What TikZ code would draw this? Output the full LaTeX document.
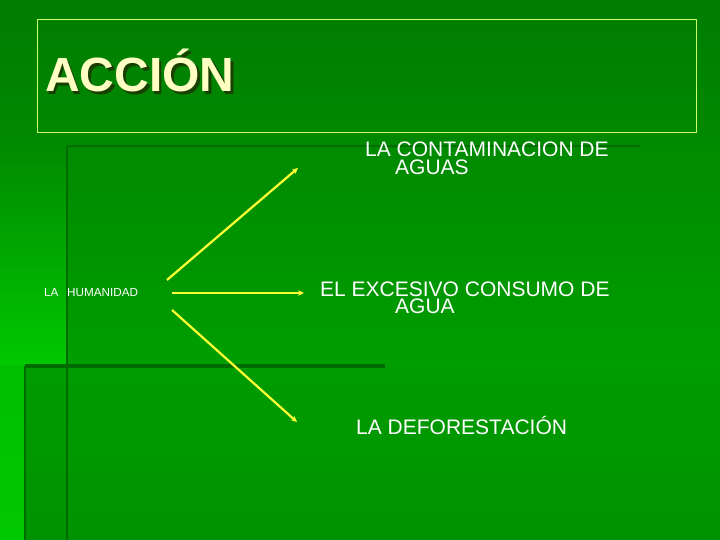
\documentclass[tikz,border=0pt]{standalone}
\usepackage{fontspec}
\setmainfont{Liberation Sans}
\usetikzlibrary{arrows.meta}
\definecolor{gtop}{HTML}{007C00}
\definecolor{gmid}{HTML}{008A00}
\definecolor{gpanel}{HTML}{009E00}
\definecolor{glow}{HTML}{009200}
\definecolor{gbright}{HTML}{00C800}
\definecolor{gline}{HTML}{006C00}
\definecolor{boxline}{HTML}{CCFF66}
\definecolor{arrowcol}{HTML}{FFFF33}
\definecolor{titlecol}{HTML}{FFFFC4}
\definecolor{shadowcol}{HTML}{1A4000}
\tikzset{
  deco/.style={gline, line width=2.6pt},
  arr/.style={arrowcol, line width=2.2pt, -{Stealth[length=6pt,width=5.5pt]}},
  item/.style={text=white, font=\fontsize{21}{17.5}\selectfont, inner sep=0pt, align=left, anchor=base west},
}
\begin{document}
\begin{tikzpicture}[x=1pt,y=-1pt]
\useasboundingbox (0,0) rectangle (720,540);
% background panels
\shade[top color=gtop, bottom color=gmid] (0,0) rectangle (720,146);
\shade[top color=gmid, bottom color=gpanel] (67,146) rectangle (720,365);
\shade[top color=gpanel!80!glow, bottom color=glow] (25,365) rectangle (720,540);
\shade[top color=gmid, bottom color=gbright] (0,146) rectangle (67,365);
\shade[top color=gbright!85!gmid, bottom color=gbright] (0,365) rectangle (25,540);
% decorative lines
\draw[deco] (67,146) -- (67,540);
\draw[deco] (67,146) -- (640,146);
\draw[deco, line width=3.5pt] (25,366) -- (385,366);
\draw[deco] (25,366) -- (25,540);
% title box
\node[draw=boxline, line width=0.8pt, minimum width=659pt, minimum height=113pt, inner sep=0pt, anchor=north west] (titlebox) at (37,19) {};
\node[text=shadowcol, font=\fontsize{48}{48}\selectfont\bfseries, inner sep=0pt, anchor=base west] at (47.5,94.5) {ACCIÓN};
\node[text=titlecol, font=\fontsize{48}{48}\selectfont\bfseries, inner sep=0pt, anchor=base west] (title) at (45,92) {ACCIÓN};
% nodes
\node[text=white, font=\fontsize{11.7}{13}\selectfont, inner sep=0pt, anchor=base west] (hum) at (44,296) {LA\hspace{5.5pt} HUMANIDAD};
\node[item] (cont) at (365,174.5) {LA CONTAMINACION DE\\\hspace*{30pt}AGUAS};
\node[item] (cons) at (320,313.5) {EL EXCESIVO CONSUMO DE\\\hspace*{75pt}AGUA};
\node[item] (defo) at (356,434) {LA DEFORESTACIÓN};
% arrow end points
\coordinate (s1) at (167,280);
\coordinate (e1) at (298,168);
\coordinate (s2) at (172,293);
\coordinate (e2) at (304,293);
\coordinate (s3) at (172,310);
\coordinate (e3) at (297,422);
\draw[arr] (s1) -- (e1);
\draw[arr] (s2) -- (e2);
\draw[arr] (s3) -- (e3);
\end{tikzpicture}
\end{document}
